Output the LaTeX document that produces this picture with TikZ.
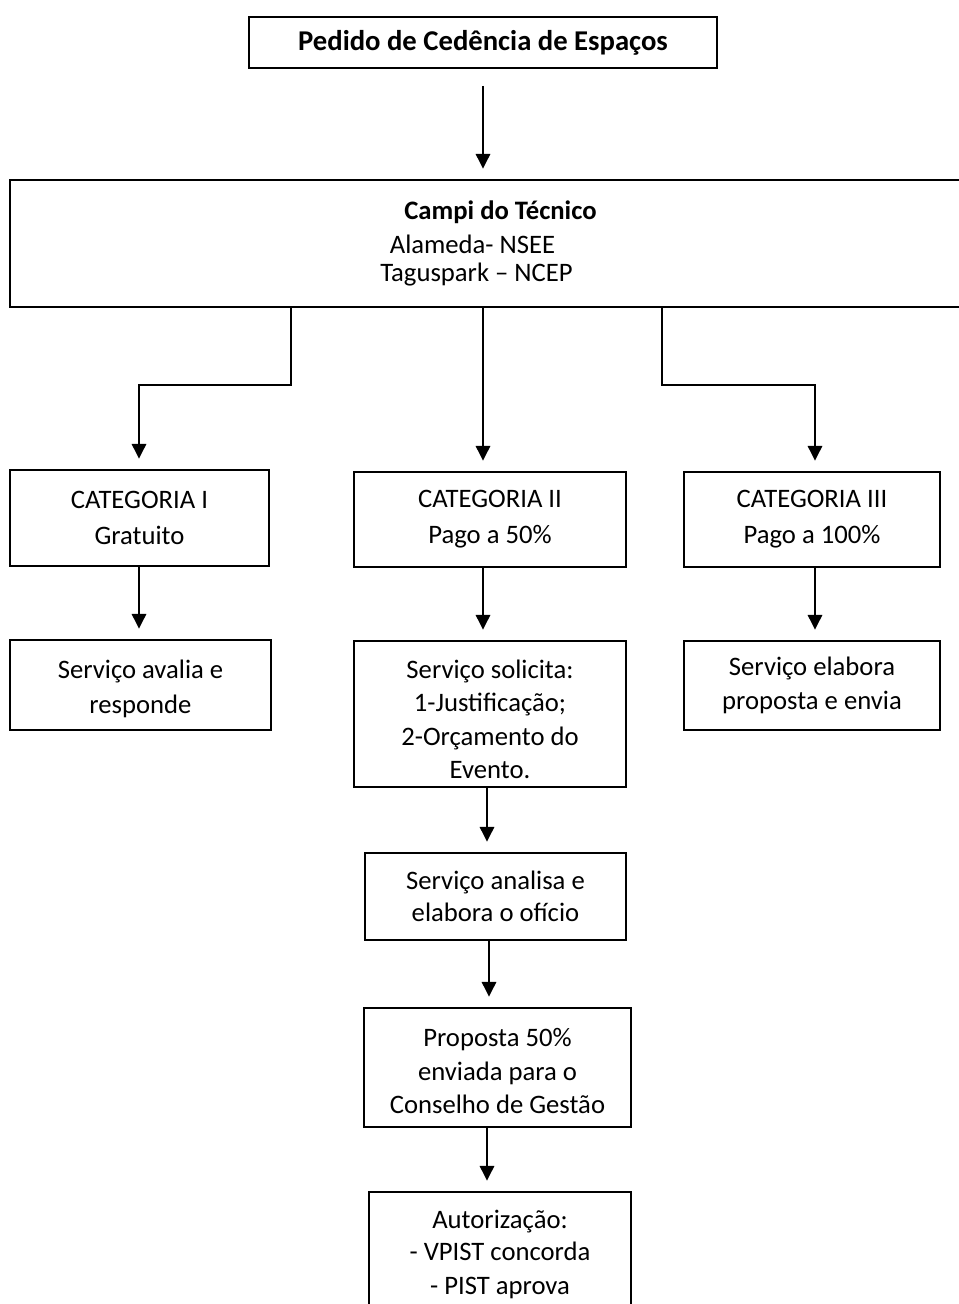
\documentclass[tikz,border=0pt]{standalone}
\usepackage{fontspec}
\setmainfont{Carlito}
\usetikzlibrary{arrows.meta}

\begin{document}
\begin{tikzpicture}[x=0.75pt,y=0.75pt,yscale=-1,
  box/.style={draw, line width=1.2pt, inner sep=0pt, align=center,
    font=\fontsize{20}{25}\selectfont},
  arr/.style={-{Triangle[width=11pt,length=11pt]}, line width=0.9pt, shorten >=8pt}]
%set diagram area: 959 x 1304
\useasboundingbox (0,0) rectangle (959,1304);
\clip (0,0) rectangle (959,1304);

%Shape: Rectangle [pedido]
\node [box, minimum width=351pt, minimum height=38.25pt, font=\fontsize{21.5}{25}\selectfont\bfseries] (pedido) at (483,42.5) {Pedido de Cedência de Espaços};
%Shape: Rectangle [campi]
\node [box, minimum width=723.75pt, minimum height=95.25pt] (campi) at (492.5,243.5)
  {\hspace*{12pt}\textbf{Campi do Técnico}\\[1pt] \hspace*{-30pt}Alameda- NSEE\\[-4pt] \hspace*{-24pt}Taguspark – NCEP};

%Shape: Rectangle [categorias]
\node [box, minimum width=194.25pt, minimum height=72pt] (catA) at (139.5,518) {CATEGORIA I\\[2pt] Gratuito};
\node [box, minimum width=204pt, minimum height=71.25pt] (catB) at (490,519.5) {CATEGORIA II\\[2pt] Pago a 50\%};
\node [box, minimum width=192pt, minimum height=71.25pt] (catC) at (812,519.5) {CATEGORIA III\\[2pt] Pago a 100\%};

%Shape: Rectangle [servicos]
\node [box, minimum width=195.75pt, minimum height=67.5pt] (servA) at (140.5,685) {\rule{0pt}{20pt}Serviço avalia e\\[1pt] responde};
\node [box, minimum width=204pt, minimum height=109.5pt] (servB) at (490,714) {\rule{0pt}{22pt}Serviço solicita:\\ 1-Justificação;\\ 2-Orçamento do\\ Evento.};
\node [box, minimum width=192pt, minimum height=66.75pt] (servC) at (812,685.5) {Serviço elabora\\ proposta e envia};

%Shape: Rectangle [percurso 50%]
\node [box, minimum width=195.75pt, minimum height=65.25pt] (analisa) at (495.5,896.5) {Serviço analisa e\\[-1pt] elabora o ofício};
\node [box, minimum width=200.25pt, minimum height=89.25pt] (proposta) at (497.5,1067.5) {\rule{0pt}{19pt}Proposta 50\%\\ enviada para o\\ Conselho de Gestão};
\node [box, minimum width=196.5pt, minimum height=93.75pt] (autoriza) at (500,1254.5) {Autorização:\\[-1pt] - VPIST concorda\\ - PIST aprova};

% Coordinates for the connectors
\coordinate (kA) at (291,385);
\coordinate (kB) at (483,385);
\coordinate (kC) at (662,385);
\coordinate (xA) at (139,0);
\coordinate (xC) at (815,0);
\coordinate (xD) at (487,0);
\coordinate (xE) at (489,0);

%Straight Lines
\draw [arr, shorten <=12.75pt] (pedido.south -| kB) -- (campi.north -| kB);
\draw [arr] (campi.south -| kA) -- (kA) -| (catA.north -| xA);
\draw [arr] (campi.south -| kB) -- (catB.north -| kB);
\draw [arr] (campi.south -| kC) -- (kC) -| (catC.north -| xC);
\draw [arr] (catA.south -| xA) -- (servA.north -| xA);
\draw [arr] (catB.south -| kB) -- (servB.north -| kB);
\draw [arr] (catC.south -| xC) -- (servC.north -| xC);
\draw [arr] (servB.south -| xD) -- (analisa.north -| xD);
\draw [arr] (analisa.south -| xE) -- (proposta.north -| xE);
\draw [arr] (proposta.south -| xD) -- (autoriza.north -| xD);

\end{tikzpicture}
\end{document}
